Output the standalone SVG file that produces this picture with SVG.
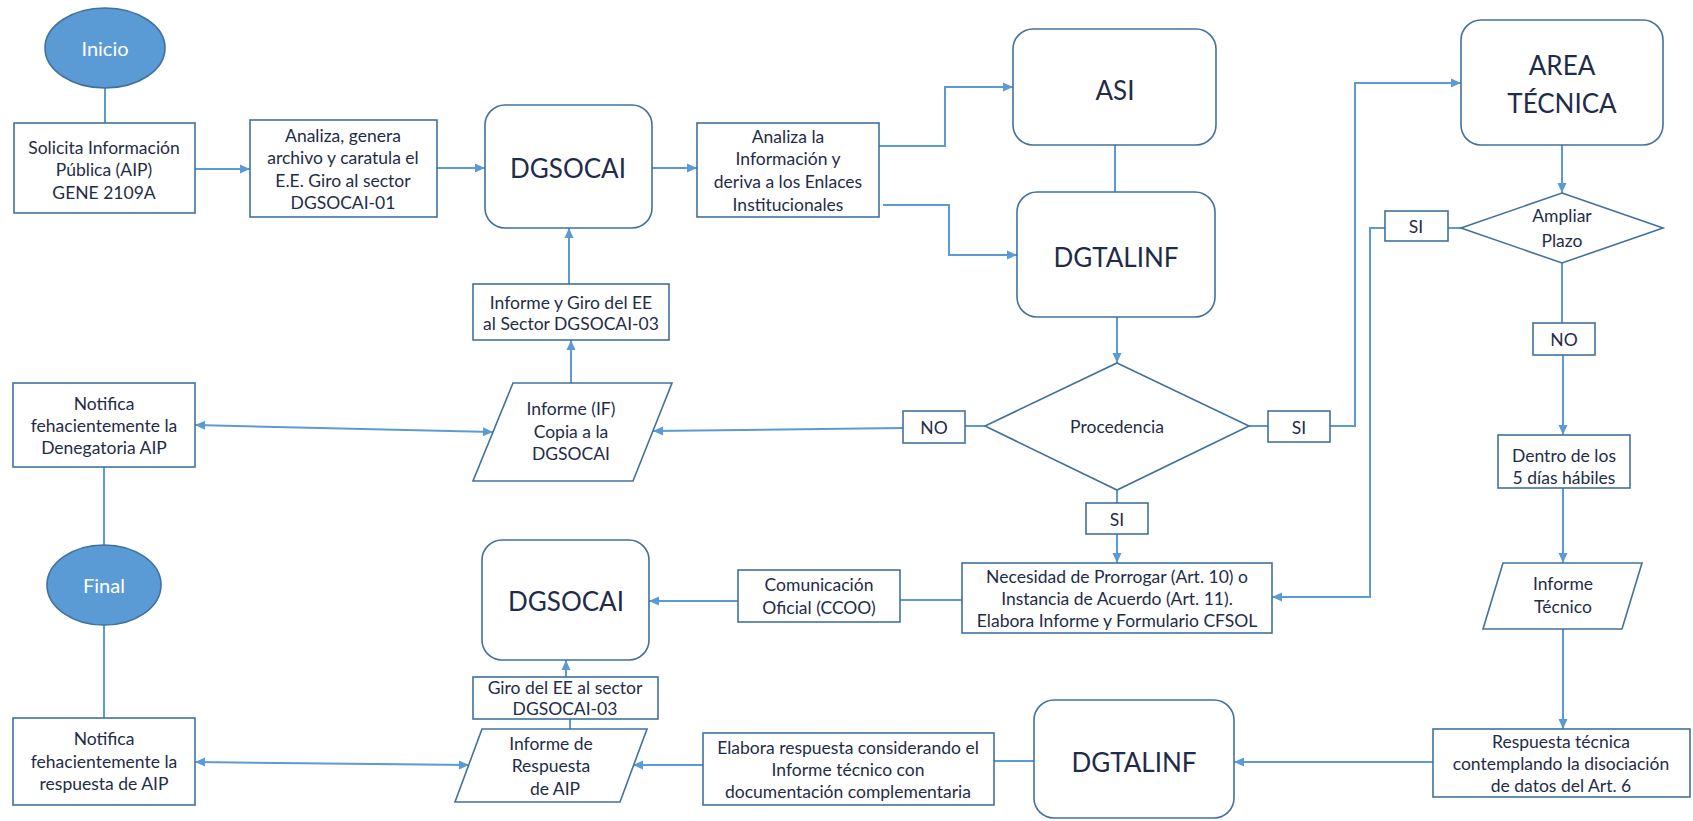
<svg xmlns="http://www.w3.org/2000/svg" width="1693" height="821" viewBox="0 0 1693 821">
<style>
.bx{fill:#ffffff;stroke:#41719C;stroke-width:1.6}
.el{fill:#5B9BD5;stroke:#41719C;stroke-width:1.6}
.t{font-family:Lato,"Liberation Sans",sans-serif;font-size:17.5px;fill:#1f2c48;text-anchor:middle;dominant-baseline:central}
.tb{font-family:Lato,"Liberation Sans",sans-serif;font-size:26px;fill:#1f2c48;text-anchor:middle;dominant-baseline:central}
.tw{font-family:Lato,"Liberation Sans",sans-serif;font-size:20px;fill:#ffffff;text-anchor:middle;dominant-baseline:central}
.c{fill:none;stroke:#5B9BD5;stroke-width:2}
</style>
<defs>
<marker id="ah" viewBox="0 0 10 10" refX="10" refY="5" markerWidth="11" markerHeight="10" markerUnits="userSpaceOnUse" orient="auto-start-reverse">
<path d="M0,0.5 L10,5 L0,9.5 z" fill="#5B9BD5"/>
</marker>
</defs>
<g id="connectors">
<line class="c" x1="105" y1="88" x2="105" y2="123"/>
<line class="c" x1="195" y1="169" x2="250" y2="169" marker-end="url(#ah)"/>
<line class="c" x1="437" y1="168" x2="485" y2="168" marker-end="url(#ah)"/>
<line class="c" x1="652" y1="168" x2="697" y2="168" marker-end="url(#ah)"/>
<polyline class="c" points="879,146 945,146 945,87 1013,87" marker-end="url(#ah)"/>
<polyline class="c" points="883,205 949,205 949,255 1017,255" marker-end="url(#ah)"/>
<line class="c" x1="1115" y1="145" x2="1115" y2="192"/>
<line class="c" x1="1117" y1="317" x2="1117" y2="363" marker-end="url(#ah)"/>
<line class="c" x1="1249" y1="426" x2="1268" y2="426"/>
<polyline class="c" points="1330,426 1355,426 1355,83 1461,83" marker-end="url(#ah)"/>
<line class="c" x1="985" y1="426" x2="965" y2="426"/>
<line class="c" x1="903" y1="428" x2="653" y2="431" marker-end="url(#ah)"/>
<line class="c" x1="1117" y1="490" x2="1117" y2="503"/>
<line class="c" x1="1117" y1="534" x2="1117" y2="563" marker-end="url(#ah)"/>
<line class="c" x1="1562" y1="145" x2="1562" y2="193" marker-end="url(#ah)"/>
<line class="c" x1="1461" y1="228" x2="1448" y2="228"/>
<polyline class="c" points="1385,228 1370,228 1370,597 1272,597" marker-end="url(#ah)"/>
<line class="c" x1="1562" y1="263" x2="1562" y2="323"/>
<line class="c" x1="1563" y1="355" x2="1563" y2="435" marker-end="url(#ah)"/>
<line class="c" x1="1563" y1="488" x2="1563" y2="563" marker-end="url(#ah)"/>
<line class="c" x1="1563" y1="629" x2="1563" y2="729" marker-end="url(#ah)"/>
<line class="c" x1="1433" y1="762" x2="1234" y2="762" marker-end="url(#ah)"/>
<line class="c" x1="1034" y1="761" x2="994" y2="761"/>
<line class="c" x1="703" y1="765" x2="633" y2="765" marker-end="url(#ah)"/>
<line class="c" x1="570" y1="729" x2="570" y2="719"/>
<line class="c" x1="566" y1="677" x2="566" y2="660" marker-end="url(#ah)"/>
<line class="c" x1="962" y1="600" x2="900" y2="600"/>
<line class="c" x1="738" y1="601" x2="649" y2="601" marker-end="url(#ah)"/>
<line class="c" x1="195" y1="762" x2="469" y2="765" marker-start="url(#ah)" marker-end="url(#ah)"/>
<line class="c" x1="195" y1="425" x2="493" y2="432" marker-start="url(#ah)" marker-end="url(#ah)"/>
<line class="c" x1="104" y1="467" x2="104" y2="545"/>
<line class="c" x1="104" y1="625" x2="104" y2="718"/>
<line class="c" x1="571" y1="383" x2="571" y2="340" marker-end="url(#ah)"/>
<line class="c" x1="569" y1="284" x2="569" y2="228" marker-end="url(#ah)"/>
</g>
<g id="inicio"><ellipse class="el" cx="105" cy="48" rx="60" ry="40"/><text class="tw" x="105" y="48">Inicio</text></g>
<g id="solicita"><rect class="bx" x="14" y="123" width="181" height="90"/><text class="t" x="104" y="147">Solicita Información</text><text class="t" x="104" y="169">Pública (AIP)</text><text class="t" x="104" y="192">GENE 2109A</text></g>
<g id="analiza1"><rect class="bx" x="250" y="120" width="187" height="97"/><text class="t" x="343" y="135">Analiza, genera</text><text class="t" x="343" y="157">archivo y caratula el</text><text class="t" x="343" y="180">E.E. Giro al sector</text><text class="t" x="343" y="202">DGSOCAI-01</text></g>
<g id="dgsocai1"><rect class="bx" x="485" y="105" width="167" height="123" rx="20"/><text class="tb" x="568" y="168">DGSOCAI</text></g>
<g id="analiza2"><rect class="bx" x="697" y="123" width="182" height="94"/><text class="t" x="788" y="136">Analiza la</text><text class="t" x="788" y="158">Información y</text><text class="t" x="788" y="181">deriva a los Enlaces</text><text class="t" x="788" y="204">Institucionales</text></g>
<g id="asi"><rect class="bx" x="1013" y="29" width="203" height="116" rx="20"/><text class="tb" x="1115" y="90">ASI</text></g>
<g id="dgtalinf1"><rect class="bx" x="1017" y="192" width="198" height="125" rx="20"/><text class="tb" x="1116" y="257">DGTALINF</text></g>
<g id="area_tecnica"><rect class="bx" x="1461" y="20" width="202" height="125" rx="20"/><text class="tb" x="1562" y="65">AREA</text><text class="tb" x="1562" y="103">TÉCNICA</text></g>
<g id="ampliar_plazo"><polygon class="bx" points="1562,193 1663,228 1562,263 1461,228"/><text class="t" x="1562" y="215">Ampliar</text><text class="t" x="1562" y="240">Plazo</text></g>
<g id="si_ampliar"><rect class="bx" x="1385" y="211" width="63" height="30"/><text class="t" x="1416" y="226">SI</text></g>
<g id="no_ampliar"><rect class="bx" x="1533" y="323" width="62" height="32"/><text class="t" x="1564" y="339">NO</text></g>
<g id="dentro"><rect class="bx" x="1498" y="435" width="132" height="53"/><text class="t" x="1564" y="455">Dentro de los</text><text class="t" x="1564" y="477">5 días hábiles</text></g>
<g id="informe_tecnico"><polygon class="bx" points="1503,563 1642,563 1622,629 1483,629"/><text class="t" x="1563" y="583">Informe</text><text class="t" x="1563" y="606">Técnico</text></g>
<g id="respuesta_tecnica"><rect class="bx" x="1433" y="729" width="257" height="68"/><text class="t" x="1561" y="741">Respuesta técnica</text><text class="t" x="1561" y="763">contemplando la disociación</text><text class="t" x="1561" y="785">de datos del Art. 6</text></g>
<g id="dgtalinf2"><rect class="bx" x="1034" y="700" width="200" height="118" rx="20"/><text class="tb" x="1134" y="762">DGTALINF</text></g>
<g id="elabora"><rect class="bx" x="703" y="733" width="291" height="72"/><text class="t" x="848" y="747">Elabora respuesta considerando el</text><text class="t" x="848" y="769">Informe técnico con</text><text class="t" x="848" y="791">documentación complementaria</text></g>
<g id="informe_respuesta"><polygon class="bx" points="482,729 647,729 620,802 455,802"/><text class="t" x="551" y="743">Informe de</text><text class="t" x="551" y="765">Respuesta</text><text class="t" x="555" y="788">de AIP</text></g>
<g id="giro2"><rect class="bx" x="473" y="677" width="185" height="42"/><text class="t" x="565" y="687">Giro del EE al sector</text><text class="t" x="565" y="708">DGSOCAI-03</text></g>
<g id="dgsocai2"><rect class="bx" x="482" y="540" width="167" height="120" rx="20"/><text class="tb" x="566" y="601">DGSOCAI</text></g>
<g id="comunicacion"><rect class="bx" x="738" y="570" width="162" height="52"/><text class="t" x="819" y="584">Comunicación</text><text class="t" x="819" y="607">Oficial (CCOO)</text></g>
<g id="necesidad"><rect class="bx" x="962" y="563" width="310" height="70"/><text class="t" x="1117" y="576">Necesidad de Prorrogar (Art. 10) o</text><text class="t" x="1117" y="598">Instancia de Acuerdo (Art. 11).</text><text class="t" x="1117" y="620">Elabora Informe y Formulario CFSOL</text></g>
<g id="procedencia"><polygon class="bx" points="1117,363 1249,426 1117,490 985,426"/><text class="t" x="1117" y="426">Procedencia</text></g>
<g id="si_procedencia"><rect class="bx" x="1268" y="411" width="62" height="31"/><text class="t" x="1299" y="427">SI</text></g>
<g id="si_procedencia2"><rect class="bx" x="1086" y="503" width="62" height="31"/><text class="t" x="1117" y="519">SI</text></g>
<g id="no_procedencia"><rect class="bx" x="903" y="411" width="62" height="32"/><text class="t" x="934" y="427">NO</text></g>
<g id="informe_if"><polygon class="bx" points="513,383 672,383 633,481 473,481"/><text class="t" x="571" y="408">Informe (IF)</text><text class="t" x="571" y="431">Copia a la</text><text class="t" x="571" y="453">DGSOCAI</text></g>
<g id="giro1"><rect class="bx" x="473" y="284" width="196" height="56"/><text class="t" x="571" y="302">Informe y Giro del EE</text><text class="t" x="571" y="323">al Sector DGSOCAI-03</text></g>
<g id="notifica_denegatoria"><rect class="bx" x="13" y="383" width="182" height="84"/><text class="t" x="104" y="403">Notifica</text><text class="t" x="104" y="425">fehacientemente la</text><text class="t" x="104" y="447">Denegatoria AIP</text></g>
<g id="final"><ellipse class="el" cx="104" cy="585" rx="57" ry="40"/><text class="tw" x="104" y="585">Final</text></g>
<g id="notifica_respuesta"><rect class="bx" x="13" y="718" width="182" height="87"/><text class="t" x="104" y="738">Notifica</text><text class="t" x="104" y="761">fehacientemente la</text><text class="t" x="104" y="783">respuesta de AIP</text></g>
</svg>
